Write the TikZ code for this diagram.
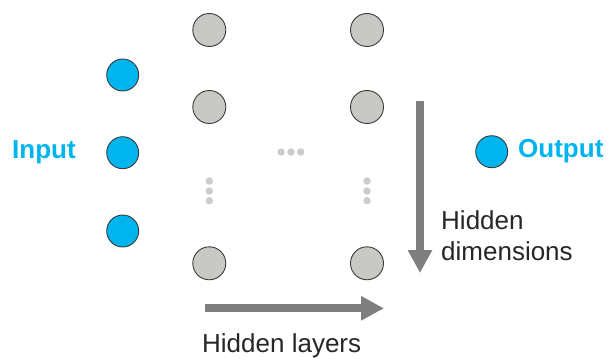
\documentclass[tikz,border=0pt]{standalone}
\usepackage{fontspec}
\setmainfont{Liberation Sans}
\usetikzlibrary{arrows.meta}
\definecolor{nnblue}{HTML}{00B4EE}
\definecolor{nngray}{HTML}{C8C8C4}
\definecolor{nnedge}{HTML}{3A3A3A}
\definecolor{nndot}{HTML}{CCCCCA}
\definecolor{nnarrow}{HTML}{7F7F7F}
\definecolor{nntext}{HTML}{262626}
\tikzset{
  unitin/.style={circle, draw=nnedge, line width=0.9pt, fill=nnblue, minimum size=32pt, inner sep=0pt},
  unithid/.style={circle, draw=nnedge, line width=0.9pt, fill=nngray, minimum size=33pt, inner sep=0pt},
  ellip/.style={circle, fill=nndot, minimum size=7.5pt, inner sep=0pt},
  iolabel/.style={anchor=base west, inner sep=0pt, text=nnblue, font=\fontsize{26}{30}\selectfont\bfseries},
  axlabel/.style={anchor=base west, inner sep=0pt, text=nntext, font=\fontsize{26}{31}\selectfont},
  bigarrow/.style={draw=nnarrow, line width=8pt, -{Triangle[length=23pt,width=23pt]}}
}
\begin{document}
\begin{tikzpicture}[x=1pt,y=-1pt]
\useasboundingbox (0,0) rectangle (609,358);

% input layer
\node[unitin] (i1) at (122.7,75) {};
\node[unitin] (i2) at (122.7,152.7) {};
\node[unitin] (i3) at (122.7,231) {};
\node[iolabel] (lin) at (12,158.3) {Input};

% hidden layers
\node[unithid] (h11) at (209.3,30) {};
\node[unithid] (h12) at (209.3,107) {};
\node[unithid] (h13) at (209.3,263.3) {};
\node[unithid] (h21) at (367,30) {};
\node[unithid] (h22) at (367,107) {};
\node[unithid] (h23) at (367,263.3) {};

% ellipses
\node[ellip] (dh1) at (281,152) {};
\node[ellip] (dh2) at (291,152) {};
\node[ellip] (dh3) at (300.7,152) {};
\node[ellip] (dl1) at (209.3,181) {};
\node[ellip] (dl2) at (209.3,191) {};
\node[ellip] (dl3) at (209.3,200.7) {};
\node[ellip] (dr1) at (367,181) {};
\node[ellip] (dr2) at (367,191) {};
\node[ellip] (dr3) at (367,200.7) {};

% output layer
\node[unitin] (o1) at (491.7,151.7) {};
\node[iolabel] (lout) at (518,157.3) {Output};

% direction arrows
\coordinate (lay0) at (205,308.3);
\coordinate (lay1) at (384,308.3);
\coordinate (dim0) at (420,100.7);
\coordinate (dim1) at (420,273);
\draw[bigarrow] (lay0) -- (lay1);
\draw[bigarrow] (dim0) -- (dim1);

\node[axlabel] (tdim1) at (441,229) {Hidden};
\node[axlabel] (tdim2) at (441,260) {dimensions};
\node[axlabel] (tlay) at (202,352) {Hidden layers};
\end{tikzpicture}
\end{document}
